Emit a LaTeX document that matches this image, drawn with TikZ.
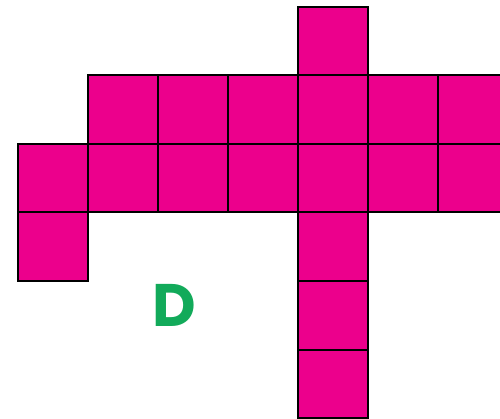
\documentclass[tikz,border=0pt]{standalone}
\usepackage{fontspec}
\setmainfont{Poppins}
\definecolor{sq}{RGB}{236,0,140}
\definecolor{lett}{RGB}{18,170,90}
\tikzset{cell/.style={fill=sq,draw=black,line width=2pt}}
\newcommand{\cellat}[2]{\fill[sq] ({18+70*#1},{7+68.5*#2}) rectangle ++(70,68.5);}
\newcommand{\cellline}[2]{\draw[black,line width=2pt] ({18+70*#1},{7+68.5*#2}) rectangle ++(70,68.5);}
\begin{document}
\begin{tikzpicture}[x=1pt,y=-1pt]
\useasboundingbox (0,0) rectangle (500,419);
\clip (0,0) rectangle (500,419);
\foreach \c/\r in {4/0, 1/1,2/1,3/1,4/1,5/1,6/1, 0/2,1/2,2/2,3/2,4/2,5/2,6/2, 0/3,4/3,4/4,4/5}{
  \cellat{\c}{\r}
}
\foreach \c/\r in {4/0, 1/1,2/1,3/1,4/1,5/1,6/1, 0/2,1/2,2/2,3/2,4/2,5/2,6/2, 0/3,4/3,4/4,4/5}{
  \cellline{\c}{\r}
}
\node[text=lett,font=\fontsize{60}{60}\selectfont\bfseries,inner sep=0pt] (d) at (174.5,305) {D};
\end{tikzpicture}
\end{document}
